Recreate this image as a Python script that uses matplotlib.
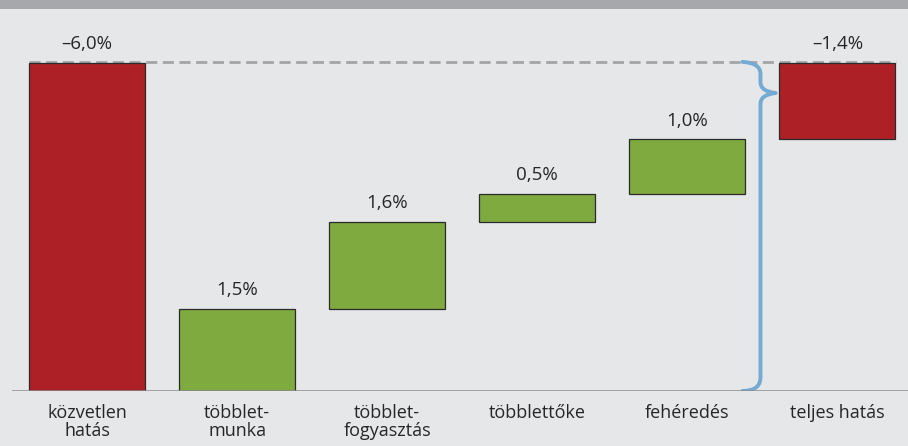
import numpy as np
import matplotlib.pyplot as plt
from matplotlib.path import Path
from matplotlib.patches import PathPatch, Rectangle

plt.rcParams['font.family'] = ['Open Sans', 'DejaVu Sans']

# data
categories = ['közvetlen\nhatás', 'többlet-\nmunka', 'többlet-\nfogyasztás',
              'többlettőke', 'fehéredés', 'teljes hatás']
values = [-6.0, 1.5, 1.6, 0.5, 1.0, -1.4]
labels = ['–6,0%', '1,5%', '1,6%', '0,5%', '1,0%', '–1,4%']

RED = '#AD2126'
GREEN = '#7FAA3F'
BG = '#E6E7E9'
TXT = '#262626'
FS = 13

# waterfall geometry (magnitudes plotted upward from the baseline)
bottoms, heights, colors = [], [], []
top = -values[0]
bottoms.append(0); heights.append(top); colors.append(RED)
level = 0.0
for v in values[1:-1]:
    bottoms.append(level); heights.append(v); colors.append(GREEN)
    level += v
bottoms.append(level); heights.append(top - level); colors.append(RED)

fig = plt.figure(figsize=(9.08, 4.46), dpi=100, facecolor=BG)
# grey band on top
fig.patches.append(Rectangle((0, 1 - 9/446), 1, 9/446, transform=fig.transFigure,
                             facecolor='#A7A8AB', edgecolor='none'))

ax = fig.add_axes([12/908, 55/446, 896/908, 380/446])
ax.set_facecolor(BG)
x = np.arange(len(categories))
ax.bar(x, heights, bottom=bottoms, width=116/150, color=colors,
       edgecolor='#2a2a2a', linewidth=0.9, zorder=3)

for xi, b, h, lab in zip(x, bottoms, heights, labels):
    ax.text(xi, b + h + 0.18, lab, ha='center', va='bottom', fontsize=FS + 0.5, color=TXT)

# dashed reference line at the direct-effect level
ax.plot([x[0] - 0.39, x[-1] + 0.39], [top + 0.02, top + 0.02], color='#A3A4A6',
        lw=2.0, ls=(0, (4, 2)), zorder=2)

# brace from baseline to the top level, pointing at the final bar
bx = 4.467
r = 0.1
tip_y = top - 0.55
codes = [Path.MOVETO, Path.CURVE3, Path.CURVE3, Path.LINETO, Path.CURVE3, Path.CURVE3]
v_up = [(bx - r, top + 0.02), (bx + 0.02, top), (bx + 0.02, top - 0.2),
        (bx + 0.02, tip_y + 0.2), (bx + 0.02, tip_y + 0.03), (bx + 0.12, tip_y)]
v_dn = [(bx + 0.12, tip_y), (bx + 0.02, tip_y - 0.03), (bx + 0.02, tip_y - 0.2),
        (bx + 0.02, 0.25), (bx + 0.02, 0.0), (bx - r, 0.0)]
for vv in (v_up, v_dn):
    ax.add_patch(PathPatch(Path(vv, codes), facecolor='none', edgecolor='#74AAD3',
                           lw=2.8, capstyle='round', zorder=4))

ax.axhline(0, color='#8C8C8E', lw=1.8, zorder=5)

ax.set_xlim(-0.5, 5.47)
ax.set_ylim(0, 6.95)
for s in ax.spines.values():
    s.set_visible(False)
ax.set_yticks([])
ax.set_xticks(x)
ax.set_xticklabels(categories, fontsize=FS, color=TXT, linespacing=1.0)
ax.tick_params(axis='x', length=0, pad=9)

fig.savefig('out.png', dpi=100, facecolor=BG)
